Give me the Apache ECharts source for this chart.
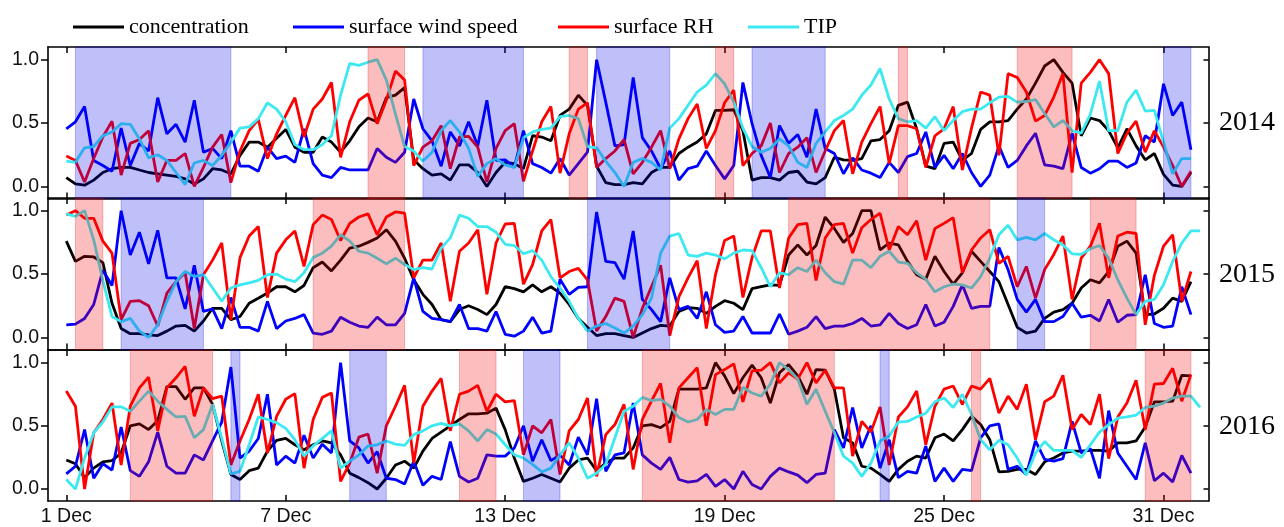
<!DOCTYPE html>
<html><head><meta charset="utf-8">
<script src="https://cdn.jsdelivr.net/npm/echarts@6/dist/echarts.min.js"></script>
<style>html,body{margin:0;padding:0;background:#fff}#c{width:1284px;height:527px}</style>
</head><body><div id="c"></div><script>
// ---- data (6-hourly, t = index * 0.25 days since 1 Dec 00:00) ----
var conc2014 = [0.07,0.02,0.01,0.05,0.11,0.14,0.15,0.15,0.13,0.11,0.10,0.09,0.08,0.06,0.02,0.06,0.14,0.13,0.10,0.245,0.35,0.35,0.31,0.38,0.45,0.31,0.27,0.27,0.39,0.35,0.27,0.36,0.47,0.54,0.51,0.70,0.72,0.78,0.21,0.14,0.09,
0.10,0.05,0.17,0.17,0.11,0.0,0.11,0.19,0.18,0.14,0.40,0.39,0.36,0.56,0.61,0.72,0.64,0.16,0.03,0.015,0.015,0.03,0.02,0.11,0.15,0.15,0.26,0.31,0.35,0.415,0.60,0.60,0.605,0.44,0.05,0.07,0.07,0.05,0.11,0.12,0.035,0.02,0.07,0.23,
0.21,0.205,0.22,0.36,0.37,0.44,0.64,0.665,0.455,0.16,0.14,0.34,0.35,0.205,0.26,0.45,0.51,0.51,0.52,0.61,0.69,0.815,0.95,1.0,0.90,0.815,0.40,0.54,0.52,0.44,0.305,0.455,0.32,0.21,0.26,0.095,0.01,0.0,0.11];
var wind2014 = [0.455,0.51,0.63,0.205,0.165,0.12,0.46,0.165,0.34,0.28,0.70,0.415,0.49,0.35,0.68,0.27,0.30,0.22,0.44,0.16,0.16,0.12,0.31,0.22,0.24,0.19,0.455,0.18,0.09,0.07,0.15,0.13,0.13,0.13,0.30,0.23,0.19,0.27,0.69,0.455,0.36,
0.16,0.43,0.32,0.51,0.32,0.68,0.205,0.21,0.15,0.44,0.18,0.15,0.105,0.22,0.09,0.18,0.27,1.0,0.665,0.32,0.33,0.86,0.385,0.28,0.14,0.28,0.05,0.14,0.16,0.28,0.165,0.06,0.165,0.82,0.495,0.245,0.07,0.48,0.34,0.41,0.23,0.61,0.30,0.26,
0.10,0.225,0.13,0.105,0.07,0.19,0.11,0.235,0.26,0.43,0.15,0.245,0.14,0.26,0.11,0.0,0.09,0.32,0.15,0.205,0.32,0.42,0.17,0.16,0.14,0.42,0.15,0.105,0.14,0.20,0.20,0.15,0.185,0.40,0.35,0.81,0.56,0.665,0.29];
var rh2014 = [0.24,0.205,0.035,0.22,0.39,0.515,0.09,0.34,0.37,0.44,0.035,0.205,0.205,0.26,0.0,0.15,0.31,0.41,0.03,0.28,0.44,0.53,0.22,0.415,0.56,0.70,0.39,0.61,0.69,0.82,0.23,0.51,0.68,0.73,0.495,0.68,0.91,0.84,0.165,0.31,0.36,
0.48,0.14,0.39,0.395,0.31,0.035,0.30,0.44,0.495,0.04,0.28,0.51,0.63,0.105,0.415,0.61,0.66,0.15,0.22,0.28,0.37,0.10,0.19,0.31,0.44,0.14,0.375,0.535,0.65,0.30,0.44,0.66,0.76,0.165,0.26,0.32,0.50,0.11,0.26,0.31,0.385,0.11,0.28,0.44,
0.52,0.10,0.35,0.495,0.63,0.18,0.48,0.48,0.455,0.15,0.40,0.455,0.63,0.13,0.46,0.745,0.72,0.245,0.89,0.86,0.745,0.515,0.56,0.705,0.89,0.11,0.815,0.90,1.0,0.89,0.26,0.42,0.515,0.27,0.44,0.31,0.165,0.0,0.12];
var tip2014 = [0.20,0.19,0.305,0.315,0.40,0.43,0.495,0.49,0.375,0.225,0.25,0.205,0.11,0.015,0.185,0.205,0.165,0.245,0.35,0.46,0.47,0.535,0.66,0.61,0.51,0.33,0.29,0.29,0.33,0.40,0.72,0.97,0.955,0.98,1.0,0.84,0.57,0.315,0.28,0.20,0.27,
0.44,0.52,0.43,0.30,0.08,0.18,0.22,0.17,0.15,0.385,0.43,0.45,0.46,0.55,0.56,0.535,0.315,0.305,0.20,0.11,0.0,0.19,0.22,0.19,0.13,0.46,0.535,0.64,0.745,0.80,0.89,0.81,0.665,0.46,0.315,0.27,0.30,0.375,0.32,0.19,0.15,0.34,0.43,0.52,
0.56,0.61,0.72,0.80,0.93,0.69,0.535,0.51,0.52,0.46,0.55,0.44,0.52,0.59,0.61,0.61,0.66,0.705,0.71,0.665,0.67,0.685,0.575,0.47,0.52,0.44,0.42,0.57,0.83,0.44,0.44,0.665,0.76,0.595,0.60,0.35,0.10,0.22,0.22];

var conc2015 = [0.76,0.60,0.64,0.635,0.59,0.27,0.07,0.03,0.03,0.02,0.015,0.05,0.09,0.095,0.05,0.13,0.23,0.23,0.14,0.165,0.27,0.31,0.35,0.40,0.40,0.36,0.41,0.55,0.595,0.525,0.61,0.705,0.72,0.75,0.785,0.85,0.76,0.625,0.455,0.34,0.26,
0.14,0.125,0.22,0.25,0.22,0.18,0.26,0.40,0.385,0.36,0.415,0.36,0.40,0.35,0.26,0.15,0.08,0.015,0.03,0.03,0.015,0.0,0.035,0.07,0.095,0.09,0.205,0.235,0.23,0.19,0.245,0.29,0.27,0.22,0.385,0.40,0.415,0.41,0.65,0.73,0.65,0.725,0.95,0.86,
0.75,0.82,1.0,1.0,0.69,0.745,0.73,0.60,0.495,0.46,0.64,0.52,0.42,0.51,0.68,0.60,0.52,0.44,0.26,0.08,0.035,0.05,0.15,0.20,0.22,0.27,0.39,0.455,0.43,0.52,0.72,0.76,0.665,0.18,0.185,0.23,0.31,0.285,0.44];
var wind2015 = [0.10,0.105,0.15,0.26,0.53,0.41,1.0,0.65,0.83,0.58,0.845,0.47,0.47,0.225,0.57,0.205,0.225,0.07,0.315,0.08,0.08,0.05,0.285,0.07,0.13,0.15,0.18,0.035,0.025,0.05,0.16,0.12,0.09,0.08,0.16,0.10,0.10,0.19,0.47,0.205,0.15,
0.14,0.125,0.26,0.07,0.07,0.05,0.205,0.025,0.01,0.05,0.16,0.035,0.05,0.46,0.34,0.395,0.40,0.99,0.60,0.59,0.46,0.84,0.30,0.22,0.125,0.47,0.22,0.245,0.15,0.36,0.10,0.04,0.05,0.165,0.035,0.035,0.035,0.185,0.025,0.05,0.08,0.165,0.07,0.09,
0.09,0.11,0.15,0.09,0.10,0.19,0.11,0.07,0.10,0.26,0.09,0.12,0.245,0.415,0.23,0.245,0.245,0.71,0.535,0.30,0.20,0.30,0.125,0.125,0.165,0.27,0.16,0.175,0.13,0.30,0.12,0.175,0.18,0.495,0.11,0.08,0.09,0.40,0.18];
var rh2015 = [0.965,1.0,0.94,0.94,0.76,0.665,0.14,0.285,0.29,0.25,0.09,0.35,0.44,0.51,0.07,0.495,0.61,0.745,0.14,0.63,0.80,0.875,0.315,0.665,0.77,0.84,0.56,0.89,0.965,0.93,0.765,0.90,0.95,0.975,0.81,0.95,0.99,0.98,0.47,0.61,0.61,
0.745,0.285,0.68,0.745,0.85,0.34,0.745,0.895,0.90,0.42,0.575,0.84,0.93,0.47,0.52,0.545,0.455,0.05,0.165,0.31,0.285,0.0,0.23,0.40,0.57,0.015,0.32,0.47,0.605,0.07,0.495,0.765,0.80,0.315,0.63,0.84,0.84,0.39,0.785,0.89,0.90,0.45,0.785,0.89,
0.90,0.665,0.865,0.93,0.98,0.69,0.875,0.81,0.92,0.61,0.86,0.90,0.945,0.51,0.69,0.785,0.85,0.585,0.64,0.40,0.56,0.31,0.535,0.655,0.80,0.30,0.625,0.72,0.90,0.47,0.80,0.83,0.82,0.10,0.49,0.72,0.81,0.285,0.52];
var tip2015 = [0.975,0.955,1.0,0.77,0.45,0.165,0.125,0.15,0.05,0.0,0.10,0.285,0.44,0.52,0.48,0.495,0.39,0.285,0.39,0.415,0.43,0.45,0.495,0.50,0.46,0.44,0.51,0.63,0.665,0.72,0.81,0.76,0.68,0.665,0.625,0.58,0.625,0.575,0.535,0.55,0.54,
0.705,0.785,0.965,0.94,0.875,0.875,0.83,0.735,0.725,0.66,0.685,0.61,0.48,0.39,0.285,0.15,0.05,0.09,0.11,0.075,0.035,0.09,0.18,0.31,0.665,0.80,0.82,0.65,0.64,0.665,0.65,0.62,0.665,0.69,0.685,0.55,0.40,0.51,0.495,0.55,0.52,0.61,0.51,0.44,
0.42,0.61,0.61,0.55,0.64,0.68,0.595,0.585,0.51,0.46,0.36,0.40,0.42,0.415,0.39,0.48,0.625,0.81,0.885,0.77,0.79,0.77,0.82,0.77,0.73,0.66,0.655,0.70,0.725,0.625,0.455,0.31,0.18,0.285,0.30,0.415,0.60,0.745,0.84,0.84];

var conc2016 = [0.23,0.20,0.09,0.165,0.215,0.225,0.285,0.50,0.515,0.47,0.54,0.81,0.81,0.71,0.80,0.80,0.67,0.38,0.115,0.075,0.145,0.165,0.30,0.385,0.40,0.35,0.31,0.35,0.38,0.365,0.27,0.125,0.09,0.05,0.0,0.085,0.19,0.22,0.165,0.30,0.40,
0.45,0.50,0.55,0.595,0.595,0.60,0.64,0.47,0.245,0.06,0.085,0.115,0.085,0.055,0.165,0.23,0.245,0.145,0.205,0.245,0.245,0.325,0.50,0.51,0.485,0.535,0.79,0.79,0.79,0.80,1.0,0.895,0.755,0.88,0.98,0.88,0.68,0.92,0.985,0.895,0.75,0.945,0.94,0.79,
0.405,0.365,0.18,0.165,0.115,0.06,0.155,0.22,0.26,0.245,0.405,0.435,0.38,0.47,0.575,0.51,0.39,0.135,0.14,0.155,0.155,0.115,0.215,0.245,0.285,0.30,0.30,0.305,0.305,0.30,0.365,0.365,0.38,0.49,0.69,0.69,0.695,0.90,0.895];
var wind2016 = [0.12,0.18,0.47,0.085,0.20,0.15,0.49,0.145,0.10,0.215,0.45,0.18,0.125,0.125,0.27,0.23,0.38,0.53,0.965,0.245,0.30,0.40,0.75,0.19,0.26,0.205,0.425,0.245,0.355,0.285,1.0,0.38,0.325,0.205,0.295,0.085,0.075,0.04,0.22,0.03,0.10,
0.075,0.375,0.10,0.055,0.085,0.27,0.26,0.26,0.325,0.50,0.22,0.39,0.225,0.27,0.19,0.41,0.27,0.715,0.14,0.27,0.285,0.68,0.27,0.205,0.155,0.25,0.075,0.055,0.065,0.115,0.02,0.075,0.0,0.14,0.035,0.0,0.10,0.165,0.135,0.11,0.05,0.115,0.125,0.47,
0.325,0.645,0.325,0.50,0.165,0.39,0.09,0.14,0.125,0.34,0.06,0.165,0.06,0.155,0.145,0.405,0.50,0.515,0.155,0.18,0.115,0.38,0.235,0.22,0.24,0.535,0.285,0.32,0.085,0.62,0.285,0.18,0.075,0.365,0.065,0.125,0.055,0.265,0.125];
var rh2016 = [0.775,0.655,0.0,0.445,0.55,0.68,0.19,0.655,0.80,0.885,0.46,0.80,0.88,0.97,0.575,0.80,0.715,0.735,0.19,0.38,0.55,0.75,0.285,0.575,0.71,0.755,0.165,0.55,0.725,0.76,0.06,0.205,0.41,0.435,0.125,0.50,0.655,0.82,0.205,0.655,0.775,
0.875,0.46,0.75,0.775,0.82,0.615,0.75,0.69,0.70,0.27,0.50,0.445,0.55,0.115,0.46,0.55,0.72,0.10,0.43,0.51,0.67,0.155,0.55,0.695,0.835,0.365,0.80,0.88,0.96,0.50,0.905,0.945,0.99,0.69,0.935,0.94,1.0,0.84,0.92,0.87,1.0,0.84,0.94,0.80,
0.80,0.26,0.535,0.45,0.65,0.19,0.57,0.65,0.775,0.35,0.655,0.79,0.815,0.67,0.815,0.79,0.875,0.60,0.735,0.63,0.83,0.39,0.69,0.735,0.90,0.47,0.59,0.51,0.75,0.24,0.57,0.68,0.86,0.47,0.83,0.835,0.955,0.695,0.905];
var tip2016 = [0.075,0.0,0.245,0.445,0.53,0.65,0.65,0.615,0.695,0.775,0.695,0.63,0.57,0.575,0.405,0.47,0.67,0.40,0.12,0.14,0.35,0.57,0.55,0.525,0.48,0.39,0.26,0.34,0.40,0.46,0.165,0.22,0.27,0.34,0.35,0.38,0.355,0.345,0.43,0.46,0.50,
0.52,0.50,0.515,0.46,0.38,0.47,0.435,0.35,0.27,0.245,0.195,0.135,0.165,0.27,0.365,0.245,0.085,0.125,0.195,0.405,0.615,0.655,0.725,0.70,0.71,0.655,0.565,0.53,0.55,0.63,0.59,0.63,0.63,0.805,0.76,0.735,0.83,1.0,0.945,0.87,0.67,0.79,0.615,0.445,
0.26,0.205,0.10,0.205,0.38,0.42,0.53,0.535,0.57,0.60,0.69,0.72,0.645,0.75,0.59,0.39,0.31,0.385,0.35,0.245,0.11,0.285,0.375,0.305,0.305,0.305,0.25,0.35,0.45,0.51,0.56,0.57,0.585,0.645,0.655,0.68,0.72,0.735,0.735,0.645];

// shaded episodes [startDay, endDay] (days since 1 Dec 00:00)
var blueBands2014 = [[0.25,4.5],[9.75,12.5],[14.5,16.5],[18.75,20.75],[30.0,30.75]];
var redBands2014  = [[8.25,9.25],[13.75,14.25],[17.75,18.25],[22.75,23.0],[26.0,27.5]];
var blueBands2015 = [[1.5,3.75],[14.25,16.5],[26.0,26.75]];
var redBands2015  = [[0.25,1.0],[6.75,9.25],[19.75,25.25],[28.0,29.25]];
var blueBands2016 = [[4.5,4.75],[7.75,8.75],[12.5,13.5],[22.25,22.5]];
var redBands2016  = [[1.75,4.0],[10.75,11.75],[15.75,21.0],[24.75,25.0],[29.5,30.75]];

var years = ['2014','2015','2016'];
var seriesNames = ['concentration','surface wind speed','surface RH','TIP'];
var tickDays = [0,6,12,18,24,30];
var tickLabels = ['1 Dec','7 Dec','13 Dec','19 Dec','25 Dec','31 Dec'];
var yTicks = [0, 0.5, 1.0];

// ---- chart ----
var STEP = 0.25;
var XMIN = -0.5, XMAX = 31.23, YMIN = -0.095, YMAX = 1.1;
var colors = ['#000000','#0000ff','#ff0000','#3ce9f0'];
var BLUE_FILL = 'rgba(0,0,230,0.25)', RED_FILL = 'rgba(240,0,0,0.26)';
var panels = [
  {lines:[conc2014,wind2014,rh2014,tip2014], blue:blueBands2014, red:redBands2014},
  {lines:[conc2015,wind2015,rh2015,tip2015], blue:blueBands2015, red:redBands2015},
  {lines:[conc2016,wind2016,rh2016,tip2016], blue:blueBands2016, red:redBands2016}
];
var gridTops = [47, 198, 350];
var yearY = [122.5, 275, 426.5];
var FONT_SANS = '"Liberation Sans", Arial, sans-serif';
var FONT_SERIF = '"Liberation Serif", "Times New Roman", serif';

function pairs(arr){ return arr.map(function(v,i){ return [i*STEP, v]; }); }
function bandRenderer(color){
  return function(params, api){
    var p0 = api.coord([api.value(0), YMAX]);
    var p1 = api.coord([api.value(1), YMIN]);
    return {type:'rect', shape:{x:p0[0], y:p0[1], width:p1[0]-p0[0], height:p1[1]-p0[1]},
            style:{fill:color, stroke:color, lineWidth:1}};
  };
}
var axLine = {show:true, onZero:false, lineStyle:{color:'#000', width:1.6}};
var tickStyle = {color:'#000', width:1.5};
var grids=[], xAxes=[], yAxes=[], series=[];
panels.forEach(function(p, i){
  grids.push({left:48, right:75.5, top:gridTops[i], height:151.5});
  xAxes.push({type:'value', gridIndex:i, position:'bottom', min:XMIN, max:XMAX,
    axisLine:axLine, splitLine:{show:false},
    axisTick:{show:true, inside:true, length:6, customValues:tickDays, lineStyle:tickStyle},
    axisLabel:{show:i===2, customValues:tickDays, margin:6, fontSize:19.5, fontFamily:FONT_SANS, color:'#111',
      formatter:function(v){ var k=tickDays.indexOf(Math.round(v)); return k>=0?tickLabels[k]:''; }}});
  xAxes.push({type:'value', gridIndex:i, position:'top', min:XMIN, max:XMAX,
    axisLine:axLine, splitLine:{show:false}, axisLabel:{show:false},
    axisTick:{show:true, inside:true, length:6, customValues:tickDays, lineStyle:tickStyle}});
  yAxes.push({type:'value', gridIndex:i, position:'left', min:YMIN, max:YMAX,
    axisLine:axLine, splitLine:{show:false},
    axisTick:{show:true, inside:false, length:7, customValues:yTicks, lineStyle:tickStyle},
    axisLabel:{customValues:yTicks, margin:9, fontSize:19.5, fontFamily:FONT_SANS, color:'#111',
      formatter:function(v){ return v.toFixed(1); }}});
  yAxes.push({type:'value', gridIndex:i, position:'right', min:YMIN, max:YMAX,
    axisLine:axLine, splitLine:{show:false}, axisLabel:{show:false},
    axisTick:{show:true, inside:true, length:5, customValues:yTicks, lineStyle:tickStyle}});
  p.lines.forEach(function(arr, k){
    series.push({name:seriesNames[k], type:'line', xAxisIndex:2*i, yAxisIndex:2*i,
      data:pairs(arr), showSymbol:false, symbol:'none', silent:true, z:2,
      lineStyle:{width:2.8, color:colors[k]}, itemStyle:{color:colors[k]}});
  });
  [[p.blue, BLUE_FILL],[p.red, RED_FILL]].forEach(function(b){
    series.push({type:'custom', xAxisIndex:2*i, yAxisIndex:2*i, z:5, silent:true,
      renderItem:bandRenderer(b[1]), encode:{x:[0,1], y:2},
      data:b[0].map(function(r){ return [r[0], r[1], 0]; })});
  });
});
var legendLeft = [68, 288, 553, 743];
var legends = seriesNames.map(function(n, k){
  return {data:[n], left:legendLeft[k], top:11, icon:'rect', itemWidth:51, itemHeight:3,
    selectedMode:false, textStyle:{fontFamily:FONT_SERIF, fontSize:22, color:'#000'}};
});
var graphic = years.map(function(y, i){
  return {type:'text', x:1219, y:yearY[i], silent:true,
    style:{text:y, font:'28px ' + FONT_SERIF, fill:'#000', verticalAlign:'middle'}};
});
var chart = echarts.init(document.getElementById('c'), null, {renderer:'canvas'});
chart.setOption({animation:false, backgroundColor:'#fff', grid:grids, xAxis:xAxes, yAxis:yAxes,
  legend:legends, graphic:graphic, series:series});
</script></body></html>
